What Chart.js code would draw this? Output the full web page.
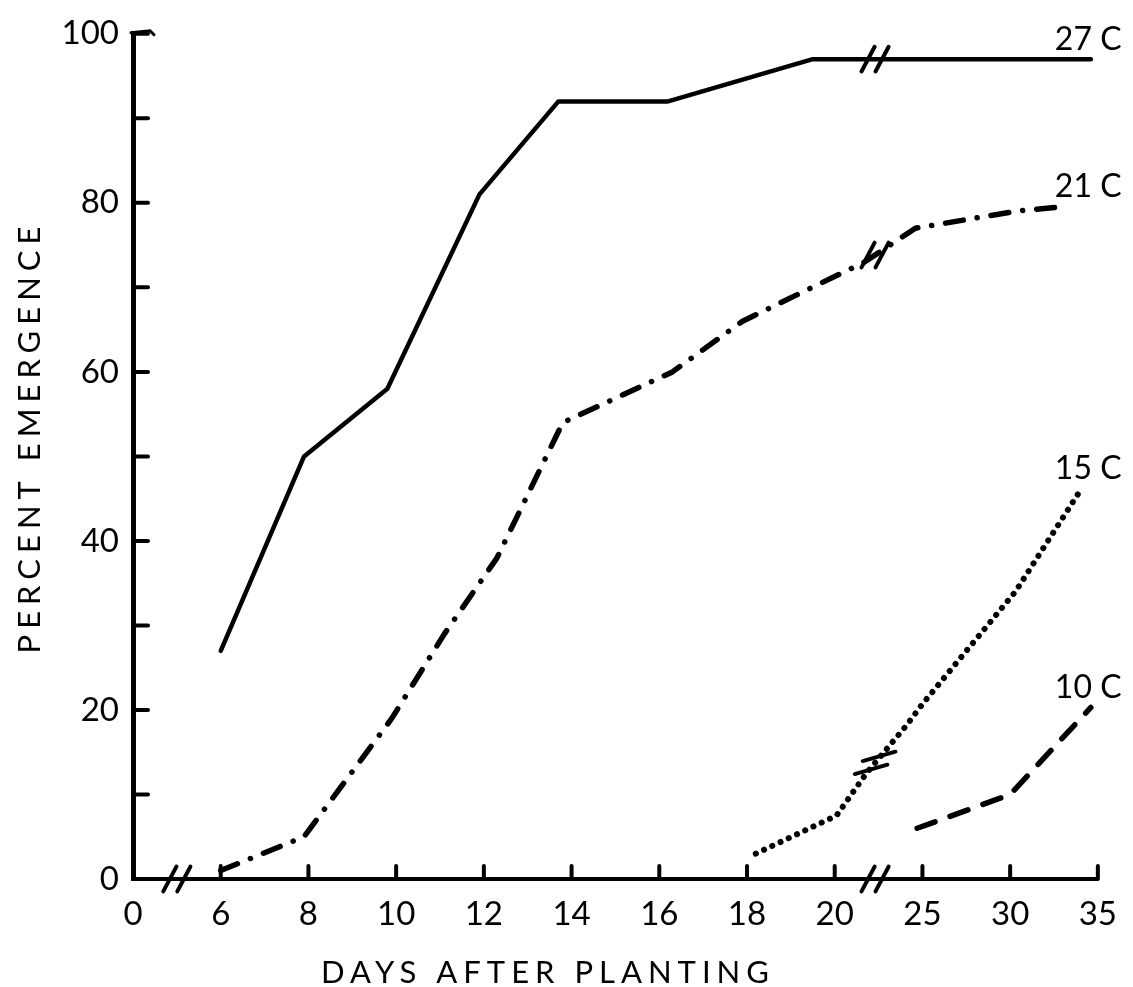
<!DOCTYPE html>
<html>
<head>
<meta charset="utf-8">
<script src="https://cdn.jsdelivr.net/npm/chart.js@4.4.1/dist/chart.umd.min.js"></script>
<style>
html, body { margin: 0; padding: 0; background: #fff; }
</style>
</head>
<body>
<canvas id="chart" width="1133" height="987"></canvas>
<script>
// tick labels along the broken day axis, one per equally spaced position
const day_ticks = [0, 6, 8, 10, 12, 14, 16, 18, 20, 25, 30, 35]

// [day, percent emergence]
const emergence_27 = [[6, 27], [7.9, 50], [9.8, 58], [11.9, 81], [13.7, 92], [16.2, 92], [19.5, 97], [34.6, 97]]
const emergence_21 = [[6, 1], [7.9, 5], [9.9, 19], [11.1, 29], [12.3, 38], [13.8, 54], [16.3, 60], [17.9, 66], [21.7, 73], [24.6, 77], [30.3, 79], [33.3, 79.6]]
const emergence_15 = [[18.2, 3], [20.1, 7.5], [21.8, 12.5], [24.1, 18.2], [25, 20.7], [30.3, 34], [34.1, 46.3]]
const emergence_10 = [[24.7, 6], [30, 10], [34.6, 20.3]]
const series_names = ['27 C', '21 C', '15 C', '10 C']

// where the day axis is broken
const low_break_day = 3
const high_break_day = 22.3

const font_name = 'Lato, "DejaVu Sans", sans-serif'

// 0..6 squeezed into one tick gap, 2 days per tick up to 20, then 5 days per tick
function day_to_pos(d) {
    if (d <= 6) return d / 6
    if (d <= 20) return 1 + (d - 6) / 2
    return 8 + (d - 20) / 5
}

function to_points(rows) {
    return rows.map(r => ({x: day_to_pos(r[0]), y: r[1]}))
}

function value_at(points, p) {
    for (let i = 0; i < points.length - 1; i ++) {
        let a = points[i], b = points[i + 1]
        if (p >= a.x && p <= b.x) {
            return a.y + (b.y - a.y) * (p - a.x) / (b.x - a.x)
        }
    }
    return null
}

function stroke_line(ctx, x1, y1, x2, y2) {
    ctx.beginPath()
    ctx.moveTo(x1, y1)
    ctx.lineTo(x2, y2)
    ctx.stroke()
}

// two short parallel strokes centred on (cx, cy)
function break_mark(ctx, cx, cy, style) {
    ctx.lineWidth = 4
    if (style == 'flat') {
        let ang = 16 * Math.PI / 180
        let half = 17
        let dx = Math.cos(ang) * half, dy = Math.sin(ang) * half
        for (let k of [-1, 1]) {
            let ox = -k * 4, oy = k * 6.5
            stroke_line(ctx, cx + ox - dx, cy + oy + dy, cx + ox + dx, cy + oy - dy)
        }
    } else {
        let ang = 62 * Math.PI / 180
        let half = 14
        let dx = Math.cos(ang) * half, dy = Math.sin(ang) * half
        for (let k of [-1, 1]) {
            let ox = k * 7
            stroke_line(ctx, cx + ox - dx, cy + dy, cx + ox + dx, cy - dy)
        }
    }
}

const decorations = {
    id: 'decorations',
    afterDatasetsDraw(chart) {
        const ctx = chart.ctx
        const xs = chart.scales.x, ys = chart.scales.y
        const area = chart.chartArea
        ctx.save()
        ctx.strokeStyle = '#000'
        ctx.fillStyle = '#000'
        ctx.lineCap = 'round'

        // tick marks point into the plot
        ctx.lineWidth = 4
        xs.ticks.forEach((t, i) => {
            if (i == 0) return
            let px = xs.getPixelForValue(t.value)
            stroke_line(ctx, px, area.bottom, px, area.bottom - 13)
        })
        ys.ticks.forEach(t => {
            if (t.value == 0) return
            let py = ys.getPixelForValue(t.value)
            stroke_line(ctx, area.left, py, area.left + 15, py)
        })
        // little flick at the top of the y axis
        ctx.lineWidth = 3
        ctx.beginPath()
        ctx.moveTo(area.left - 2, area.top - 1)
        ctx.lineTo(area.left + 17, area.top - 3)
        ctx.lineTo(area.left + 21, area.top + 1)
        ctx.stroke()

        // axis breaks
        let low_px = xs.getPixelForValue(day_to_pos(low_break_day))
        let high_p = day_to_pos(high_break_day)
        let high_px = xs.getPixelForValue(high_p)
        break_mark(ctx, low_px, area.bottom, 'slash')
        break_mark(ctx, high_px, area.bottom, 'slash')
        chart.data.datasets.forEach(ds => {
            let v = value_at(ds.data, high_p)
            if (v != null) {
                break_mark(ctx, high_px, ys.getPixelForValue(v), ds.break_style)
            }
        })

        // curve names at the end of each line
        ctx.font = '32px ' + font_name
        ctx.textAlign = 'left'
        ctx.textBaseline = 'alphabetic'
        chart.data.datasets.forEach(ds => {
            let last = ds.data[ds.data.length - 1]
            ctx.fillText(ds.label, area.right - 43, ys.getPixelForValue(last.y) - 9)
        })

        // axis titles, letter spaced
        ctx.font = '31px ' + font_name
        ctx.letterSpacing = '6px'
        ctx.textAlign = 'center'
        ctx.textBaseline = 'middle'
        ctx.fillText('DAYS AFTER PLANTING', 548, 973)
        ctx.translate(30, 437)
        ctx.rotate(-Math.PI / 2)
        ctx.fillText('PERCENT EMERGENCE', 0, 0)
        ctx.restore()
    }
}

const line_base = {
    fill: false,
    tension: 0,
    pointRadius: 0,
    borderColor: '#000',
    borderWidth: 5,
    borderCapStyle: 'round',
    borderJoinStyle: 'round',
}

new Chart(document.getElementById('chart'), {
    type: 'line',
    data: {
        datasets: [
            Object.assign({}, line_base, {label: series_names[0], data: to_points(emergence_27), borderWidth: 4.5, break_style: 'slash'}),
            Object.assign({}, line_base, {label: series_names[1], data: to_points(emergence_21), borderWidth: 5.5, borderDash: [18, 14, 0.1, 14], break_style: 'slash'}),
            Object.assign({}, line_base, {label: series_names[2], data: to_points(emergence_15), borderWidth: 6, borderDash: [0.1, 9], break_style: 'flat'}),
            Object.assign({}, line_base, {label: series_names[3], data: to_points(emergence_10), borderWidth: 5.5, borderDash: [19, 16], break_style: 'slash'}),
        ]
    },
    options: {
        responsive: false,
        animation: false,
        layout: {padding: {top: 22, right: 34, left: 0, bottom: 0}},
        plugins: {legend: {display: false}, tooltip: {enabled: false}},
        scales: {
            x: {
                type: 'linear',
                min: 0,
                max: day_ticks.length - 1,
                afterBuildTicks: s => { s.ticks = day_ticks.map(d => ({value: day_to_pos(d)})) },
                afterFit: s => { s.height = 108 },
                grid: {display: false, drawTicks: false},
                border: {display: true, color: '#000', width: 4},
                ticks: {
                    autoSkip: false,
                    maxRotation: 0,
                    padding: 16,
                    color: '#000',
                    font: {family: font_name, size: 33},
                    callback: (v, i) => day_ticks[i],
                },
            },
            y: {
                min: 0,
                max: 100,
                afterFit: s => { s.width = 133 },
                grid: {display: false, drawTicks: false},
                border: {display: true, color: '#000', width: 5},
                ticks: {
                    stepSize: 10,
                    padding: 14,
                    color: '#000',
                    font: {family: font_name, size: 33},
                    callback: v => (v % 20 == 0 ? v : ''),
                },
            },
        },
    },
    plugins: [decorations],
})
</script>
</body>
</html>
